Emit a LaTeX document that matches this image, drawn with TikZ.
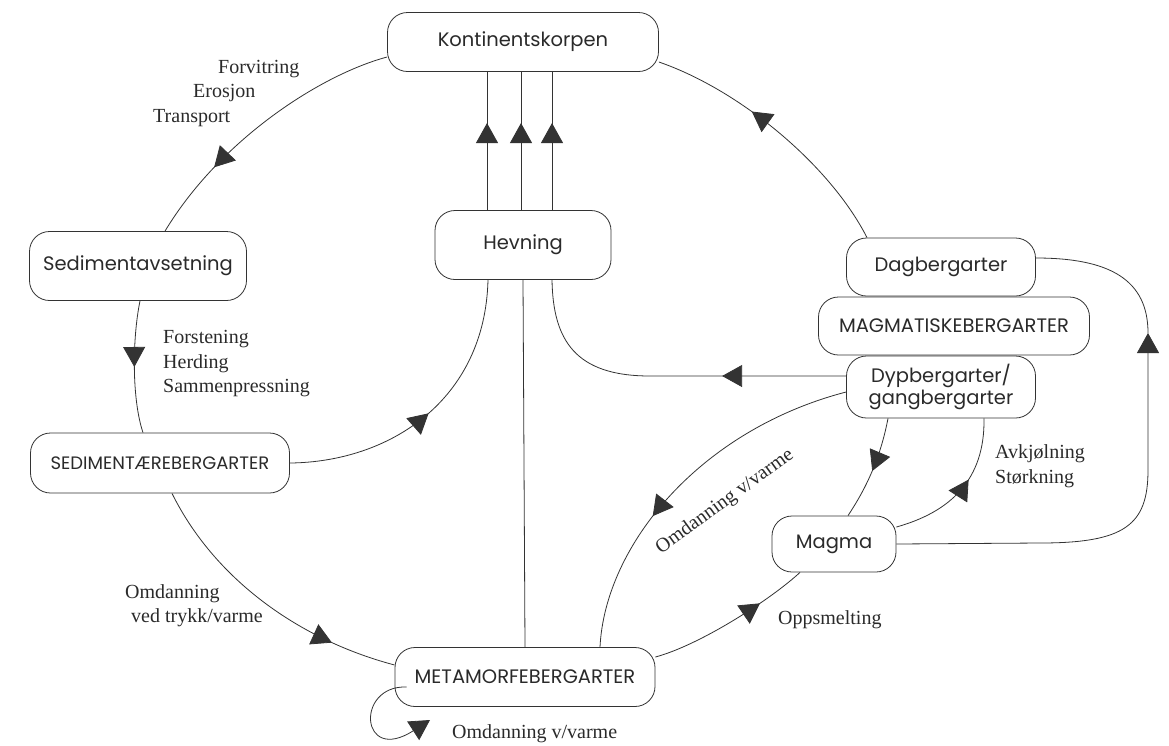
\documentclass[tikz,border=0pt]{standalone}
\usepackage{fontspec}
\newfontfamily\boxfnt{Poppins}
\newfontfamily\lblfnt{Liberation Serif}
\usetikzlibrary{arrows.meta,decorations.markings,calc}
\definecolor{linec}{HTML}{333333}
\definecolor{textc}{HTML}{2A2A2A}
\tikzset{
  box/.style={draw=linec, line width=0.8pt, rounded corners=20pt, fill=white,
    font=\boxfnt\fontsize{19.5}{22}\selectfont, text=textc, inner sep=0pt, align=center},
  line/.style={color=linec, line width=0.8pt},
  >={Triangle[length=20pt,width=22pt]},
  midarrow/.style={postaction={decorate}, decoration={markings, mark=at position #1 with {\arrow{>}}}},
  lbl/.style={font=\lblfnt\fontsize{20}{24}\selectfont, text=textc, anchor=base west, inner sep=0pt},
}
\begin{document}
\begin{tikzpicture}[x=1pt,y=-1pt]
\useasboundingbox (0,0) rectangle (1169,745);
% nodes
\node[box, minimum width=271pt, minimum height=59pt] (K)  at (523,42)  {Kontinentskorpen};
\node[box, minimum width=176pt, minimum height=69pt] (H)  at (523,245) {Hevning};
\node[box, minimum width=217pt, minimum height=69pt] (Sa) at (138,266) {Sedimentavsetning};
\node[box, minimum width=259pt, minimum height=60pt, font=\boxfnt\fontsize{18}{22}\selectfont] (SE) at (160,463) {SEDIMENTÆREBERGARTER};
\node[box, minimum width=260pt, minimum height=59pt] (M)  at (525,677) {METAMORFEBERGARTER};
\node[box, minimum width=124pt, minimum height=56pt] (Mg) at (834,544) {Magma};
\node[box, minimum width=189pt, minimum height=58pt] (D)  at (941,267) {Dagbergarter};
\node[box, minimum width=271pt, minimum height=58pt] (MA) at (954,326) {MAGMATISKEBERGARTER};
\node[box, minimum width=189pt, minimum height=62pt] (Dy) at (941,387) {Dypbergarter/\\gangbergarter};

% connectors
\draw[line, midarrow=0.72] ([yshift=-15pt]K.west) .. controls (320,75) and (220,140) .. ([xshift=27pt]Sa.north);
\draw[line, midarrow=0.5] ([xshift=2pt]Sa.south) .. controls (132,340) and (132,400) .. ([xshift=-17pt]SE.north);
\draw[line, midarrow=0.5] (SE.east) .. controls (390,462) and (485,400) .. ([xshift=-35pt]H.south);
\draw[line, midarrow=0.77] ([xshift=12pt]SE.south) .. controls (215,580) and (300,640) .. ([yshift=12pt]M.west);
\draw[line, ->] ([xshift=12pt,yshift=-10pt]M.west) .. controls (355,685) and (360,765) .. (430,720);
\draw[line] (H.south) -- (M.north);
\draw[line, midarrow=0.63] ([xshift=-36pt]H.north) -- ([xshift=-36pt]K.south);
\draw[line, midarrow=0.63] ([xshift=-2pt]H.north) -- ([xshift=-2pt]K.south);
\draw[line, midarrow=0.63] ([xshift=29pt]H.north) -- ([xshift=29pt]K.south);
\draw[line, midarrow=0.62] ([xshift=-74pt]D.north) .. controls (830,165) and (740,90) .. ([yshift=-20pt]K.east);
\draw[line, midarrow=124pt] ([yshift=11pt]Dy.west) -- (650,376) .. controls (575,376) and (553,340) .. ([xshift=29pt]H.south);
\draw[line, midarrow=0.62] ([yshift=-5pt]Dy.west) .. controls (700,430) and (605,545) .. ([xshift=75pt]M.north);
\draw[line, midarrow=0.52] ([xshift=-53pt]Dy.south) .. controls (880,460) and (865,490) .. ([xshift=14pt]Mg.north);
\draw[line, midarrow=0.58] ([yshift=17pt]Mg.east) .. controls (950,512) and (985,480) .. ([xshift=43pt]Dy.south);
\coordinate (r) at (1148,333);
\draw[line, ->] (Mg.east) -- (1040,543) .. controls (1125,543) and (1148,525) .. (1148,470) -- (r);
\draw[line] (r) .. controls (1148,280) and (1110,258) .. ([yshift=9pt]D.east);
\draw[line, midarrow=0.7] ([yshift=20pt]M.east) .. controls (700,645) and (770,600) .. ([xshift=-34pt]Mg.south);

% labels
\node[lbl] (l1) at (218,73) {Forvitring};
\node[lbl] (l2) at (193,97) {Erosjon};
\node[lbl] (l3) at (153,122) {Transport};
\node[lbl] (l4) at (163,343) {Forstening};
\node[lbl] (l5) at (163,368) {Herding};
\node[lbl] (l6) at (163,392) {Sammenpressning};
\node[lbl] (l7) at (125,598) {Omdanning};
\node[lbl] (l8) at (131,622) {ved trykk/varme};
\node[lbl] (l9) at (778,624) {Oppsmelting};
\node[lbl] (l10) at (452,738) {Omdanning v/varme};
\node[lbl] (l11) at (995,458) {Avkjølning};
\node[lbl] (l12) at (995,483) {Størkning};
\node[lbl, anchor=center, rotate=36] (l13) at (725,502) {Omdanning v/varme};
\end{tikzpicture}
\end{document}
